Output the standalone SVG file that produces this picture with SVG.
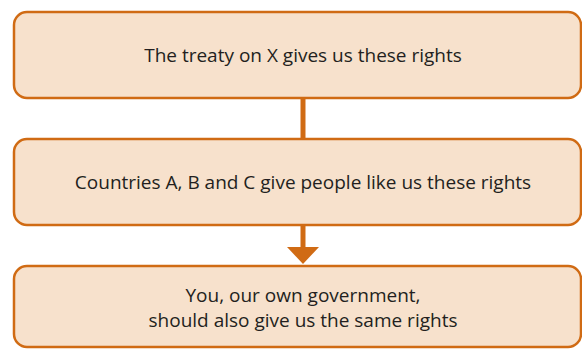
<svg xmlns="http://www.w3.org/2000/svg" width="582" height="349" viewBox="0 0 582 349">
<style>
.box{fill:#f7e1cc;stroke:#d06b14;stroke-width:2.5}
.t{font-family:"Open Sans","Noto Sans",sans-serif;font-size:19px;fill:#231f20;text-anchor:middle}
.c{stroke:#d06b14;stroke-width:5;fill:none}
</style>
<g id="connectors">
<line class="c" x1="303" y1="98" x2="303" y2="139"/>
<line class="c" x1="303" y1="225" x2="303" y2="249"/>
<path d="M287,247 L319,247 L303,264 Z" fill="#d06b14"/>
</g>
<g id="node1">
<rect class="box" x="14" y="12" width="567" height="86" rx="13"/>
<text class="t" x="303" y="62">The treaty on X gives us these rights</text>
</g>
<g id="node2">
<rect class="box" x="14" y="139" width="567" height="86" rx="13"/>
<text class="t" x="303" y="189">Countries A, B and C give people like us these rights</text>
</g>
<g id="node3">
<rect class="box" x="14" y="266" width="567" height="81" rx="13"/>
<text class="t" x="303" y="302">You, our own government,</text>
<text class="t" x="303" y="327">should also give us the same rights</text>
</g>
</svg>
